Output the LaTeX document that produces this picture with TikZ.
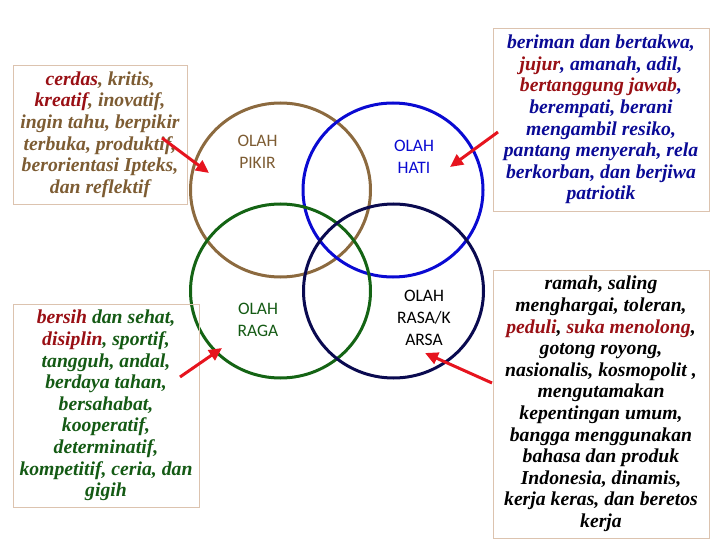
\documentclass[tikz,border=0pt]{standalone}
\usepackage{fontspec}
\setmainfont{Liberation Serif}
\newfontfamily\olahfont{Carlito}
\usepackage{xcolor}
\usetikzlibrary{arrows.meta, shapes.geometric}

\definecolor{pikirbrown}{HTML}{8C6A3F}
\definecolor{pikirtext}{HTML}{7D5C33}
\definecolor{hatiblue}{HTML}{0A0AD2}
\definecolor{hatitext}{HTML}{0A0A96}
\definecolor{ragagreen}{HTML}{146414}
\definecolor{ragatext}{HTML}{145A14}
\definecolor{rasanavy}{HTML}{0A0A50}
\definecolor{keyred}{HTML}{990F14}
\definecolor{arrowred}{HTML}{E6141E}
\definecolor{boxline}{HTML}{DCC3AF}

\newcommand{\key}[1]{\textcolor{keyred}{#1}}

\begin{document}
\begin{tikzpicture}[
  x=1pt, y=-1pt,
  ring/.style={ellipse, draw, line width=3pt, inner sep=0pt,
               minimum width=180pt, minimum height=174pt},
  olah/.style={font={\olahfont\fontsize{17.5}{22}\selectfont}, align=center},
  sifat/.style={rectangle, draw=boxline, line width=0.8pt, align=center,
                inner sep=2pt,
                font={\fontsize{19.7}{21.6}\selectfont\bfseries\itshape}},
  pointer/.style={-{Triangle[length=13pt, width=12pt]}, line width=3pt,
                  draw=arrowred}
]
\useasboundingbox (0,0) rectangle (720,540);

% Four circles
\node[ring, draw=pikirbrown] (pikir) at (280.5,190) {};
\node[ring, draw=hatiblue]   (hati)  at (393,190)   {};
\node[ring, draw=ragagreen]  (raga)  at (280.5,291) {};
\node[ring, draw=rasanavy]   (rasa)  at (393.5,291) {};

% Circle labels
\node[olah, text=pikirtext] (lpikir) at (257.5,152) {OLAH\\PIKIR};
\node[olah, text=hatiblue]  (lhati)  at (414,157)   {OLAH\\HATI};
\node[olah, text=ragatext]  (lraga)  at (258,320)   {OLAH\\RAGA};
\node[olah, text=black]     (lrasa)  at (424,318)   {OLAH\\RASA/K\\ARSA};

% Text boxes
\node[sifat, text=pikirtext, minimum width=174pt, minimum height=139pt]
  (tpikir) at (100,134.5)
  {\key{cerdas}, kritis,\\\key{kreatif}, inovatif,\\ingin tahu, berpikir\\
   terbuka, produktif,\\berorientasi Ipteks,\\dan reflektif};
\node[sifat, text=ragatext, minimum width=186pt, minimum height=203pt]
  (traga) at (106,405.5)
  {\key{bersih} dan sehat,\\\key{disiplin}, sportif,\\tangguh, andal,\\
   berdaya tahan,\\bersahabat,\\kooperatif,\\determinatif,\\
   kompetitif, ceria, dan\\gigih};
\node[sifat, text=hatitext, minimum width=216pt, minimum height=183pt]
  (thati) at (601,119.5)
  {beriman dan bertakwa,\\\key{jujur}, amanah, adil,\\\key{bertanggung jawab},\\
   berempati, berani\\mengambil resiko,\\pantang menyerah, rela\\
   berkorban, dan berjiwa\\patriotik};
\node[sifat, text=black, minimum width=216pt, minimum height=268pt]
  (trasa) at (601,404)
  {ramah, saling\\menghargai, toleran,\\\key{peduli}, \key{suka menolong},\\
   gotong royong,\\nasionalis, kosmopolit ,\\mengutamakan\\kepentingan umum,\\
   bangga menggunakan\\bahasa dan produk\\Indonesia, dinamis,\\
   kerja keras, dan beretos\\kerja};

% Arrow ends
\coordinate (apikir) at (162,138);
\coordinate (bpikir) at (209,173);
\coordinate (araga)  at (180,377);
\coordinate (braga)  at (222,348);
\coordinate (ahati)  at (498,132);
\coordinate (bhati)  at (450,167);
\coordinate (arasa)  at (492,383);
\coordinate (brasa)  at (425,353);

% Red arrows
\draw[pointer] (apikir) -- (bpikir);
\draw[pointer] (araga) -- (braga);
\draw[pointer] (ahati) -- (bhati);
\draw[pointer] (arasa) -- (brasa);

\end{tikzpicture}
\end{document}
